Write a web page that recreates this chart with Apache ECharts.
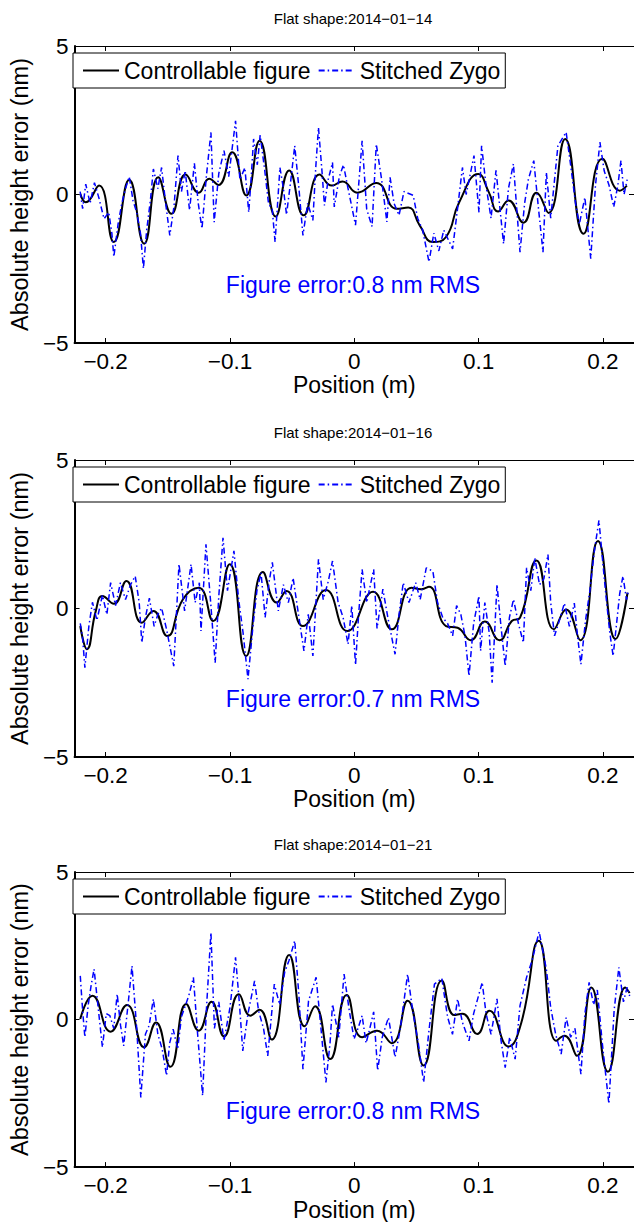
<!DOCTYPE html>
<html>
<head>
<meta charset="utf-8">
<script src="https://cdn.jsdelivr.net/npm/echarts@6/dist/echarts.min.js"></script>
<style>
html,body{margin:0;padding:0;background:#fff;}
#c{width:634px;height:1222px;}
</style>
</head>
<body>
<div id="c"></div>
<script>
// ---- data ----
const xTicks = [-0.2, -0.1, 0, 0.1, 0.2];
const yTicks = [-5, 0, 5];
const panelTitles = ['Flat shape:2014\u221201\u221214', 'Flat shape:2014\u221201\u221216', 'Flat shape:2014\u221201\u221221'];
const rmsLabels = ['Figure error:0.8 nm RMS', 'Figure error:0.7 nm RMS', 'Figure error:0.8 nm RMS'];
const seriesNames = ['Controllable figure', 'Stitched Zygo'];
const xName = 'Position (m)';
const yName = 'Absolute height error (nm)';

const ctrl1 = [[-0.2204,0.02],[-0.2159,-0.26],[-0.2053,0.30],[-0.1934,-1.60],[-0.181,0.50],[-0.169,-1.66],[-0.1577,0.58],[-0.147,-0.65],[-0.1357,0.67],[-0.1251,0.06],[-0.1167,0.53],[-0.1093,0.32],[-0.0982,1.42],[-0.0868,-0.03],[-0.0762,1.81],[-0.0632,-0.74],[-0.0524,0.81],[-0.0407,-0.70],[-0.028,0.67],[-0.018,0.30],[-0.0095,0.44],[0.0024,0.06],[0.0177,0.39],[0.0341,-0.48],[0.0434,-0.44],[0.0526,-1.04],[0.0632,-1.60],[0.0738,-1.43],[0.0844,-0.26],[0.0998,0.69],[0.1082,0.08],[0.1156,-0.57],[0.1241,-0.20],[0.136,-0.95],[0.1466,0.06],[0.1563,-0.62],[0.1696,1.87],[0.1844,-1.32],[0.1995,1.20],[0.2135,0.13],[0.2193,0.30]];

const zygo1 = [[-0.2205,0.1],[-0.2185,-0.48],[-0.216,0.35],[-0.2125,-0.3],[-0.209,0.4],[-0.2055,-0.1],[-0.2013,-0.82],[-0.1975,-0.6],[-0.195,-1.3],[-0.1934,-2.10],[-0.190,-1.0],[-0.187,-0.3],[-0.184,0.2],[-0.181,0.6],[-0.178,-0.2],[-0.175,-0.6],[-0.172,-1.3],[-0.1696,-2.49],[-0.167,-1.2],[-0.164,-0.2],[-0.1616,0.86],[-0.158,0.2],[-0.155,0.91],[-0.152,-0.2],[-0.1484,-1.38],[-0.145,-0.4],[-0.1418,1.31],[-0.139,0.1],[-0.136,0.8],[-0.1325,-0.53],[-0.1286,1.05],[-0.1255,-0.3],[-0.1225,-1.15],[-0.119,0.6],[-0.1153,2.09],[-0.1127,-0.93],[-0.109,0.7],[-0.1048,1.48],[-0.101,0.6],[-0.0955,2.48],[-0.092,0.5],[-0.088,0.9],[-0.0849,-0.60],[-0.083,0.5],[-0.081,1.87],[-0.078,1.0],[-0.0757,2.0],[-0.072,0.8],[-0.069,-0.3],[-0.066,-0.5],[-0.0637,-1.60],[-0.0598,0.91],[-0.057,0.2],[-0.0545,-0.68],[-0.051,0.5],[-0.0479,1.64],[-0.0445,0.2],[-0.0413,-1.38],[-0.0375,-0.3],[-0.0333,-0.87],[-0.031,0.9],[-0.0288,2.26],[-0.026,0.8],[-0.024,-0.37],[-0.021,0.5],[-0.0175,1.08],[-0.0161,-0.42],[-0.012,0.6],[-0.0087,1.0],[-0.005,0.2],[0.001,-1.03],[0.0063,1.81],[0.010,-0.5],[0.0143,-1.08],[0.0177,1.70],[0.022,0.5],[0.0262,-0.92],[0.0288,0.58],[0.032,-0.3],[0.036,-0.7],[0.040,0.1],[0.0474,-0.03],[0.051,-0.8],[0.055,-1.2],[0.0601,-2.27],[0.064,-1.3],[0.068,-1.9],[0.072,-1.2],[0.0791,-1.83],[0.083,-0.5],[0.087,0.91],[0.090,0.0],[0.0963,1.31],[0.1003,-0.60],[0.1024,1.64],[0.106,0.3],[0.110,-0.8],[0.114,0.81],[0.1201,-1.66],[0.124,0.2],[0.128,1.03],[0.1333,-1.94],[0.137,-0.3],[0.140,0.5],[0.1444,1.14],[0.148,-0.4],[0.1518,-1.94],[0.1545,0.75],[0.158,-0.8],[0.1638,1.64],[0.1704,2.1],[0.174,1.0],[0.178,-0.3],[0.181,-1.0],[0.1855,-0.1],[0.1902,-2.16],[0.194,0.3],[0.1976,1.76],[0.201,0.8],[0.205,0.3],[0.2087,-0.42],[0.212,0.3],[0.2145,1.14],[0.217,0.0],[0.2195,0.5]];

const ctrl2 = [[-0.2204,-0.59],[-0.215,-1.37],[-0.2079,-0.08],[-0.2026,0.42],[-0.1934,0.16],[-0.1833,0.93],[-0.1709,-0.48],[-0.1616,-0.08],[-0.1505,-0.93],[-0.1378,0.31],[-0.1251,0.70],[-0.1135,-0.42],[-0.1002,1.49],[-0.087,-1.60],[-0.0735,1.23],[-0.0624,0.20],[-0.0545,0.59],[-0.0413,-0.59],[-0.0228,0.62],[-0.0056,-0.76],[0.0151,0.56],[0.0302,-0.70],[0.046,0.70],[0.054,0.65],[0.0601,0.73],[0.0738,-0.59],[0.0831,-0.65],[0.0937,-1.07],[0.105,-0.44],[0.1167,-1.07],[0.1267,-0.42],[0.1333,-0.31],[0.1466,1.62],[0.1606,-0.70],[0.1704,-0.03],[0.1817,-1.07],[0.196,2.27],[0.2101,-1.03],[0.2198,0.53]];

const zygo2 = [[-0.2204,-0.5],[-0.2185,-1.0],[-0.2167,-1.99],[-0.2135,-0.6],[-0.2106,0.21],[-0.207,-0.4],[-0.2026,0.45],[-0.199,-0.2],[-0.196,0.87],[-0.192,0.1],[-0.1881,0.87],[-0.184,0.3],[-0.18,0.8],[-0.1762,1.09],[-0.173,0.2],[-0.1709,-1.15],[-0.168,-0.3],[-0.1648,0.35],[-0.161,-0.6],[-0.158,-0.2],[-0.155,0.02],[-0.151,-0.7],[-0.1452,-1.94],[-0.141,1.49],[-0.1365,-0.08],[-0.1313,1.49],[-0.128,0.2],[-0.1246,0.87],[-0.1233,-0.76],[-0.1193,2.16],[-0.1155,0.2],[-0.1119,-1.83],[-0.109,0.4],[-0.1056,2.38],[-0.102,0.6],[-0.0968,1.94],[-0.093,0.3],[-0.0895,-0.8],[-0.0855,-2.38],[-0.0815,-0.6],[-0.0783,0.6],[-0.075,1.2],[-0.0717,-0.3],[-0.0685,0.9],[-0.0659,1.55],[-0.0611,-0.08],[-0.057,0.8],[-0.053,0.2],[-0.0492,1.03],[-0.0445,-0.3],[-0.0405,-1.43],[-0.037,-0.2],[-0.0333,-1.6],[-0.0288,1.66],[-0.025,0.3],[-0.021,0.9],[-0.0175,1.6],[-0.013,0.2],[-0.009,-0.3],[-0.005,-1.2],[-0.002,0.1],[0.001,-1.9],[0.0035,-0.2],[0.0063,1.32],[0.010,0.2],[0.0156,1.32],[0.0183,-0.67],[0.023,0.65],[0.027,-0.3],[0.0328,-1.54],[0.036,-0.2],[0.0394,0.87],[0.044,0.2],[0.0494,0.87],[0.053,0.3],[0.0579,1.37],[0.0632,1.26],[0.067,0.2],[0.0712,-0.31],[0.075,-0.5],[0.0791,-0.92],[0.0823,0.1],[0.0857,-0.2],[0.089,-0.9],[0.0923,-2.27],[0.096,-0.5],[0.1003,0.42],[0.1016,-1.43],[0.105,0.2],[0.1085,-0.8],[0.1109,-2.5],[0.1148,0.81],[0.118,-0.6],[0.1214,-1.94],[0.1248,-0.3],[0.1281,0.31],[0.132,-0.5],[0.136,-1.15],[0.1386,1.37],[0.142,0.6],[0.1452,1.71],[0.149,0.8],[0.1525,1.0],[0.1558,1.82],[0.158,0.2],[0.1611,-0.92],[0.165,-0.4],[0.169,0.18],[0.173,-0.6],[0.177,0.18],[0.1795,-0.9],[0.1823,-1.88],[0.186,-0.4],[0.1895,0.6],[0.193,1.9],[0.1968,2.97],[0.200,1.5],[0.203,0.2],[0.2055,-0.8],[0.2082,-1.6],[0.211,-0.5],[0.2135,0.5],[0.2161,1.09],[0.219,0.3],[0.2205,0.6]];

const ctrl3 = [[-0.2204,0.02],[-0.2106,0.81],[-0.196,-0.41],[-0.1828,0.49],[-0.169,-0.94],[-0.1595,-0.10],[-0.1479,-1.60],[-0.1352,0.53],[-0.1251,-0.38],[-0.1148,0.60],[-0.1048,-0.57],[-0.0929,0.86],[-0.0836,0.13],[-0.0762,0.33],[-0.0664,-0.68],[-0.0524,2.19],[-0.0399,-0.23],[-0.0315,0.45],[-0.0193,-1.34],[-0.0061,0.83],[0.0063,-0.60],[0.0183,-0.38],[0.0302,-0.80],[0.0429,0.64],[0.0558,-1.56],[0.0704,1.32],[0.0804,0.15],[0.087,0.20],[0.0989,-0.49],[0.1087,0.30],[0.1241,-0.91],[0.1344,-0.10],[0.1484,2.67],[0.1624,-0.72],[0.169,-0.55],[0.1791,-1.23],[0.1907,1.09],[0.204,-1.77],[0.218,1.09],[0.2215,0.9]];

const zygo3 = [[-0.2204,1.48],[-0.2185,0.3],[-0.2167,-0.6],[-0.214,0.5],[-0.2115,1.2],[-0.2093,1.71],[-0.206,0.4],[-0.2026,-0.94],[-0.1995,0.2],[-0.1966,0.13],[-0.1935,-0.3],[-0.1907,0.86],[-0.188,-0.2],[-0.1855,-0.89],[-0.182,0.5],[-0.1788,1.82],[-0.175,-0.3],[-0.1717,-2.64],[-0.168,-0.5],[-0.165,-0.2],[-0.1616,0.7],[-0.158,-0.5],[-0.1545,-1.0],[-0.151,-1.9],[-0.1485,-0.8],[-0.1457,-0.33],[-0.142,-1.0],[-0.139,0.1],[-0.1331,0.81],[-0.1294,1.43],[-0.126,-0.5],[-0.122,-2.58],[-0.119,0.3],[-0.1153,2.95],[-0.1125,-0.3],[-0.109,0.6],[-0.1048,-0.72],[-0.100,0.4],[-0.0955,2.11],[-0.0925,0.6],[-0.0897,-1.06],[-0.0855,0.2],[-0.0802,1.31],[-0.077,0.3],[-0.073,-0.3],[-0.0696,-1.23],[-0.0643,1.2],[-0.060,0.5],[-0.056,1.6],[-0.0525,2.0],[-0.0479,2.67],[-0.0445,0.8],[-0.0413,-1.68],[-0.0368,0.63],[-0.0307,1.43],[-0.027,-0.2],[-0.0228,-2.13],[-0.0195,-0.8],[-0.0175,0.52],[-0.0125,-0.6],[-0.0082,1.54],[-0.004,0.3],[-0.0002,-0.66],[0.003,-0.3],[0.0063,0.13],[0.0095,-0.8],[0.0125,-0.3],[0.0156,0.26],[0.0188,-1.73],[0.0225,-0.6],[0.0275,0.07],[0.0328,-1.28],[0.037,-0.3],[0.0429,1.54],[0.047,0.3],[0.0515,-0.8],[0.0558,-2.13],[0.060,-0.4],[0.0645,1.2],[0.0704,1.4],[0.075,0.1],[0.079,-0.5],[0.0831,0.7],[0.087,-0.1],[0.0923,-0.72],[0.096,0.2],[0.1029,1.26],[0.106,0.2],[0.110,-0.5],[0.1148,0.7],[0.118,-0.7],[0.1214,-1.63],[0.125,-0.6],[0.1294,-1.34],[0.1333,0.47],[0.1386,1.43],[0.143,2.0],[0.1487,2.98],[0.1545,1.71],[0.158,0.4],[0.162,-0.5],[0.1664,-1.17],[0.1704,0.07],[0.174,-0.6],[0.1775,-0.3],[0.1823,-1.85],[0.1855,0.2],[0.1889,1.26],[0.1925,0.5],[0.1955,1.0],[0.1995,-0.8],[0.2048,-2.86],[0.209,0.3],[0.2128,1.77],[0.2165,0.6],[0.2195,1.1],[0.2215,0.8]];

const ctrlData = [ctrl1, ctrl2, ctrl3];
const zygoData = [zygo1, zygo2, zygo3];

// ---- layout / style ----
const FONT = "'Liberation Sans', Arial, Helvetica, sans-serif";
const FS = 22.5;
const FS_TEXT = 23;
const gridTops = [46, 460, 872];
const gridH = 297;
const gridLeft = 68;
const gridW = 570.6;
const xMin = -0.225, xMax = 0.225;
const fmtMinus = v => (v < 0 ? '\u2212' + String(Math.abs(v)) : String(v));

const chart = echarts.init(document.getElementById('c'), null, {renderer: 'svg', width: 634, height: 1222});

const grids = [], xAxes = [], yAxes = [], series = [], legends = [], graphics = [];
for (let i = 0; i < 3; i++) {
  grids.push({left: gridLeft, top: gridTops[i], width: gridW, height: gridH, containLabel: false});
  xAxes.push({
    type: 'value', gridIndex: i, position: 'bottom', min: xMin, max: xMax,
    name: xName, nameLocation: 'middle', nameGap: 28,
    nameTextStyle: {fontFamily: FONT, fontSize: FS_TEXT, color: '#000'},
    axisLine: {show: true, onZero: false, lineStyle: {color: '#000', width: 2}},
    axisTick: {show: true, inside: true, length: 5, customValues: xTicks, lineStyle: {color: '#000', width: 1}},
    axisLabel: {show: true, customValues: xTicks, margin: 7, formatter: fmtMinus, fontFamily: FONT, fontSize: FS, color: '#000'},
    splitLine: {show: false}
  });
  xAxes.push({
    type: 'value', gridIndex: i, position: 'top', min: xMin, max: xMax,
    axisLine: {show: true, onZero: false, lineStyle: {color: '#000', width: 1}},
    axisTick: {show: true, inside: true, length: 5, customValues: xTicks, lineStyle: {color: '#000', width: 1}},
    axisLabel: {show: false},
    splitLine: {show: false}
  });
  yAxes.push({
    type: 'value', gridIndex: i, position: 'left', min: yTicks[0], max: yTicks[yTicks.length - 1], interval: 5,
    name: yName, nameLocation: 'middle', nameGap: 36, nameRotate: 90,
    nameTextStyle: {fontFamily: FONT, fontSize: 23.5, color: '#000'},
    axisLine: {show: true, onZero: false, lineStyle: {color: '#000', width: 2}},
    axisTick: {show: true, inside: true, length: 5, lineStyle: {color: '#000', width: 1}},
    axisLabel: {show: true, margin: 6, formatter: fmtMinus, fontFamily: FONT, fontSize: FS, color: '#000'},
    splitLine: {show: false}
  });
  yAxes.push({
    type: 'value', gridIndex: i, position: 'right', min: yTicks[0], max: yTicks[yTicks.length - 1], interval: 5,
    axisLine: {show: true, onZero: false, lineStyle: {color: '#000', width: 1}},
    axisTick: {show: true, inside: true, length: 5, lineStyle: {color: '#000', width: 1}},
    axisLabel: {show: false},
    splitLine: {show: false}
  });
  series.push({
    name: seriesNames[0], type: 'line', xAxisIndex: 2 * i, yAxisIndex: 2 * i,
    data: ctrlData[i], symbol: 'none', smooth: 0.5,
    lineStyle: {color: '#000', width: 2}, itemStyle: {color: '#000'}, z: 3
  });
  series.push({
    name: seriesNames[1], type: 'line', xAxisIndex: 2 * i, yAxisIndex: 2 * i,
    data: zygoData[i], symbol: 'none', smooth: false,
    lineStyle: {color: '#0000ff', width: 1.5, type: [6, 3, 1.5, 3]}, itemStyle: {color: '#0000ff'}, z: 4
  });
  legends.push({
    data: seriesNames, left: 73, top: gridTops[i] + 7, orient: 'horizontal',
    backgroundColor: '#fff', borderColor: '#000', borderWidth: 1, borderRadius: 0,
    padding: [5, 5, 5, 9], itemWidth: 36, itemHeight: 14, itemGap: 7,
    selectedMode: false,
    itemStyle: {opacity: 0},
    textStyle: {fontFamily: FONT, fontSize: FS_TEXT, color: '#000', lineHeight: 25, padding: [0, 0, 0, 0]}
  });
  graphics.push({
    type: 'text', x: 353, y: gridTops[i] - 28, z: 10,
    style: {text: panelTitles[i], fontFamily: FONT, fontSize: 15, fill: '#000', textAlign: 'center', textVerticalAlign: 'middle'}
  });
  graphics.push({
    type: 'text', x: 353, y: gridTops[i] + 148.5 + 90, z: 10,
    style: {text: rmsLabels[i], fontFamily: FONT, fontSize: FS_TEXT, fill: '#0000ff', textAlign: 'center', textVerticalAlign: 'middle'}
  });
}

chart.setOption({
  animation: false,
  backgroundColor: '#fff',
  grid: grids,
  xAxis: xAxes,
  yAxis: yAxes,
  legend: legends,
  series: series,
  graphic: graphics
});
</script>
</body>
</html>
